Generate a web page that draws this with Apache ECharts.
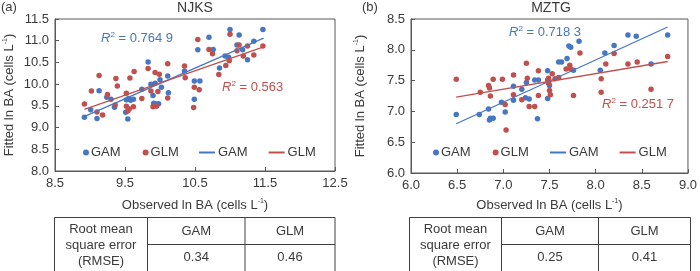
<!DOCTYPE html>
<html><head><meta charset="utf-8">
<script src="https://cdn.jsdelivr.net/npm/echarts@6/dist/echarts.min.js"></script>
<style>html,body{margin:0;padding:0;background:#fff}#c{width:700px;height:271px}</style>
</head><body><div id="c"></div><script>
// ---------- NJKS (a) ----------
const njksGamX = [8.92,9.01,9.10,9.13,9.24,9.30,9.35,9.51,9.54,9.52,9.55,9.58,9.62,9.74,9.83,9.87,9.90,9.91,9.93,9.95,9.98,10.00,10.02,10.11,10.12,10.35,10.49,10.49,10.54,10.57,10.70,10.76,10.85,10.93,10.98,11.00,11.10,11.13,11.18,11.25,11.34,11.47];
const njksGamY = [9.24,9.41,9.21,9.85,9.70,9.65,9.47,9.35,9.20,9.64,9.67,9.63,9.65,9.88,10.51,10.00,9.74,9.56,10.02,9.54,9.55,10.10,9.93,10.19,9.80,10.30,9.65,10.07,10.79,10.07,11.08,10.80,10.37,10.65,10.62,11.26,10.90,11.13,10.79,10.56,10.99,11.26];
const njksGlmX = [8.92,9.02,9.10,9.13,9.18,9.25,9.37,9.39,9.36,9.52,9.52,9.54,9.56,9.57,9.62,9.63,9.74,9.83,9.87,9.90,9.93,9.95,9.97,9.99,10.11,10.11,10.35,10.36,10.48,10.49,10.54,10.56,10.70,10.75,10.84,10.94,10.99,11.00,11.10,11.13,11.19,11.25,11.34,11.47];
const njksGlmY = [9.54,9.84,9.36,10.20,9.29,9.76,10.13,9.96,9.52,9.79,9.49,9.38,9.43,10.14,9.48,10.29,9.67,10.36,9.84,9.48,10.27,9.49,9.83,10.23,10.47,9.68,10.42,10.15,9.46,9.93,11.03,9.87,10.80,10.70,10.22,10.43,10.54,11.15,10.77,10.90,10.65,10.88,10.67,10.88];
const njksGamLine = [[8.90,9.24],[11.48,11.06]];
const njksGlmLine = [[8.92,9.42],[11.48,10.86]];
const njksR2 = ['0.764 9','0.563'];
const njksRmse = ['0.34','0.46'];

// ---------- MZTG (b) ----------
const mztgGamX = [6.49,6.74,6.84,6.85,6.86,6.89,6.98,7.02,7.11,7.11,7.20,7.25,7.24,7.28,7.34,7.38,7.37,7.48,7.48,7.49,7.50,7.60,7.63,7.69,7.71,7.73,7.76,7.82,8.05,8.10,8.20,8.35,8.44,8.60,8.78];
const mztgGamY = [6.95,6.95,7.04,6.86,6.89,6.89,7.15,6.99,7.41,7.18,7.36,7.47,7.22,7.20,7.51,7.51,6.88,7.21,7.66,7.46,7.42,7.80,7.80,7.86,8.06,8.04,7.67,8.14,7.67,7.95,8.07,8.24,8.22,7.77,8.24];
const mztgGlmX = [6.49,6.75,6.84,6.85,6.86,6.89,6.99,7.02,7.03,7.11,7.11,7.20,7.25,7.26,7.28,7.34,7.38,7.38,7.48,7.49,7.49,7.50,7.51,7.53,7.56,7.60,7.68,7.72,7.73,7.76,7.83,8.06,8.06,8.11,8.20,8.35,8.45,8.60,8.78];
const mztgGlmY = [7.52,7.31,7.42,7.38,7.25,7.52,7.52,7.11,6.70,7.59,7.27,7.19,7.78,7.54,7.08,7.08,7.66,7.26,7.51,7.54,7.46,7.34,7.27,7.61,7.53,7.55,7.69,7.75,7.69,7.26,7.95,7.53,7.31,7.77,7.94,7.77,7.80,7.36,7.89];
const mztgGamLine = [[6.49,6.80],[8.78,8.37]];
const mztgGlmLine = [[6.49,7.23],[8.78,7.81]];
const mztgR2 = ['0.718 3','0.251 7'];
const mztgRmse = ['0.25','0.41'];

const tableHead = ['GAM','GLM'];
const rowLabel = ['Root mean','square error','(RMSE)'];

const BLUE = '#4677C4', RED = '#C0504D', TXT = '#3a3a3a', AX = '#595959';
const zip = (xs, ys) => xs.map((x, i) => [x, ys[i]]);
const FONT = 'Liberation Sans, Arial, sans-serif';

const chart = echarts.init(document.getElementById('c'), null, {renderer: 'canvas'});

function xAx(idx, min, max, interval, gap) {
  return {gridIndex: idx, type: 'value', min, max, interval,
    name: '{a|Observed ln BA (cells L}{s|-1}{a|)}', nameLocation: 'middle', nameGap: gap,
    nameTextStyle: {rich: {a: {fontSize: 13, color: TXT, fontFamily: FONT}, s: {fontSize: 7, color: TXT, verticalAlign: 'top', padding: [0,0,8,0], fontFamily: FONT}}},
    axisLine: {show: true, lineStyle: {color: AX, width: 1}},
    axisTick: {show: true, inside: true, length: 4, lineStyle: {color: AX}},
    axisLabel: {color: TXT, fontSize: 13, fontFamily: FONT, margin: 6, formatter: v => v.toFixed(1)},
    splitLine: {show: false}};
}
function yAx(idx, min, max, gap) {
  return {gridIndex: idx, type: 'value', min, max, interval: 0.5,
    name: '{a|Fitted ln BA (cells L}{s|-1}{a|)}', nameLocation: 'middle', nameGap: gap,
    nameTextStyle: {rich: {a: {fontSize: 13, color: TXT, fontFamily: FONT}, s: {fontSize: 7, color: TXT, verticalAlign: 'top', padding: [0,0,8,0], fontFamily: FONT}}},
    axisLine: {show: true, lineStyle: {color: AX, width: 1}},
    axisTick: {show: true, inside: true, length: 4, lineStyle: {color: AX}},
    axisLabel: {color: TXT, fontSize: 13, fontFamily: FONT, margin: 6, formatter: v => v.toFixed(1)},
    splitLine: {show: false}};
}
function scat(name, data, color, i) {
  return {type: 'scatter', name, data, xAxisIndex: i, yAxisIndex: i, symbolSize: 5.5,
    itemStyle: {color, opacity: 1}, emphasis: {disabled: true}, z: 3};
}
function line(name, data, color, i) {
  return {type: 'line', name, data, xAxisIndex: i, yAxisIndex: i, symbol: 'none',
    lineStyle: {color, width: 1.3}, itemStyle: {color}, z: 4};
}
function legend(data, left, iw, ih, icon, gap, pad) {
  return {data, left, top: 146, padding: 0, itemWidth: iw, itemHeight: ih, icon, itemGap: gap,
    textStyle: {color: TXT, fontSize: 13, fontFamily: FONT, padding: [0, 0, 0, pad]}, formatter: n => n.split('_')[0],
    selectedMode: false};
}
function r2(x, y, val, color) {
  return {type: 'text', left: x, top: y,
    style: {text: '{i|R}{s|2}{t| = ' + val + '}', rich: {
      i: {fontStyle: 'italic', fontSize: 13, fill: color, fontFamily: FONT},
      s: {fontSize: 8, fill: color, verticalAlign: 'top', padding: [0,0,6,0], fontFamily: FONT},
      t: {fontSize: 13, fill: color, fontFamily: FONT}}}};
}
function txt(x, y, t, size) {
  return {type: 'text', x, y, style: {text: t, fill: TXT, fontSize: size || 13, fontFamily: FONT, align: 'center', verticalAlign: 'middle'}};
}
function table(x0, c1, c2, x1, rmse) {
  const st = {stroke: '#404040', lineWidth: 1, fill: null};
  const y0 = 217.5, ym = 244.5, yb = 290;
  const mid0 = (x0 + c1) / 2, mid1 = (c1 + c2) / 2, mid2 = (c2 + x1) / 2;
  return [
    {type: 'rect', shape: {x: x0, y: y0, width: x1 - x0, height: yb - y0}, style: st},
    {type: 'line', shape: {x1: c1, y1: y0, x2: c1, y2: yb}, style: st},
    {type: 'line', shape: {x1: c2, y1: y0, x2: c2, y2: yb}, style: st},
    {type: 'line', shape: {x1: c1, y1: ym, x2: x1, y2: ym}, style: st},
    txt(mid0, 229.5, rowLabel[0]), txt(mid0, 245.5, rowLabel[1]), txt(mid0, 261.5, rowLabel[2]),
    txt(mid1, 231, tableHead[0]), txt(mid2, 231, tableHead[1]),
    txt(mid1, 257.5, rmse[0]), txt(mid2, 257.5, rmse[1])
  ];
}

chart.setOption({
  animation: false,
  backgroundColor: '#fff',
  textStyle: {fontFamily: FONT},
  title: [
    {text: '(a)', left: 1, top: 1, padding: 0, textStyle: {fontSize: 13, fontWeight: 'normal', color: TXT, fontFamily: FONT}},
    {text: 'NJKS', left: 195, top: 1, padding: 0, textAlign: 'center', textStyle: {fontSize: 14, fontWeight: 'normal', color: TXT, fontFamily: FONT}},
    {text: '(b)', left: 362, top: 1, padding: 0, textStyle: {fontSize: 13, fontWeight: 'normal', color: TXT, fontFamily: FONT}},
    {text: 'MZTG', left: 551, top: 1, padding: 0, textAlign: 'center', textStyle: {fontSize: 14, fontWeight: 'normal', color: TXT, fontFamily: FONT}}
  ],
  grid: [
    {left: 55, top: 19, width: 280, height: 152, show: true, borderColor: AX, borderWidth: 1, backgroundColor: 'transparent'},
    {left: 411, top: 19, width: 280, height: 154, show: true, borderColor: AX, borderWidth: 1, backgroundColor: 'transparent'}
  ],
  xAxis: [xAx(0, 8.5, 12.5, 1, 27), xAx(1, 6, 9, 0.5, 25)],
  yAxis: [yAx(0, 8, 11.5, 38), yAx(1, 6, 8.5, 43)],
  legend: [
    legend(['GAM','GLM'], 83, 6, 6, 'circle', 22, -3),
    legend(['GAM_l','GLM_l'], 199, 16, 2, 'rect', 21, -2),
    legend(['GAM','GLM'], 433, 6, 6, 'circle', 22, -3),
    legend(['GAM_l','GLM_l'], 550, 16, 2, 'rect', 21, -2)
  ],
  series: [
    scat('GAM', zip(njksGamX, njksGamY), BLUE, 0),
    scat('GLM', zip(njksGlmX, njksGlmY), RED, 0),
    line('GAM_l', njksGamLine, BLUE, 0),
    line('GLM_l', njksGlmLine, RED, 0),
    scat('GAM', zip(mztgGamX, mztgGamY), BLUE, 1),
    scat('GLM', zip(mztgGlmX, mztgGlmY), RED, 1),
    line('GAM_l', mztgGamLine, BLUE, 1),
    line('GLM_l', mztgGlmLine, RED, 1)
  ],
  graphic: [
    r2(101, 31, njksR2[0], BLUE),
    r2(222, 80, njksR2[1], RED),
    r2(509, 25, mztgR2[0], BLUE),
    r2(602, 97, mztgR2[1], RED),
    ...table(54.5, 147.5, 245, 335, njksRmse),
    ...table(409.5, 501.5, 598.5, 690.5, mztgRmse)
  ]
});
</script></body></html>
